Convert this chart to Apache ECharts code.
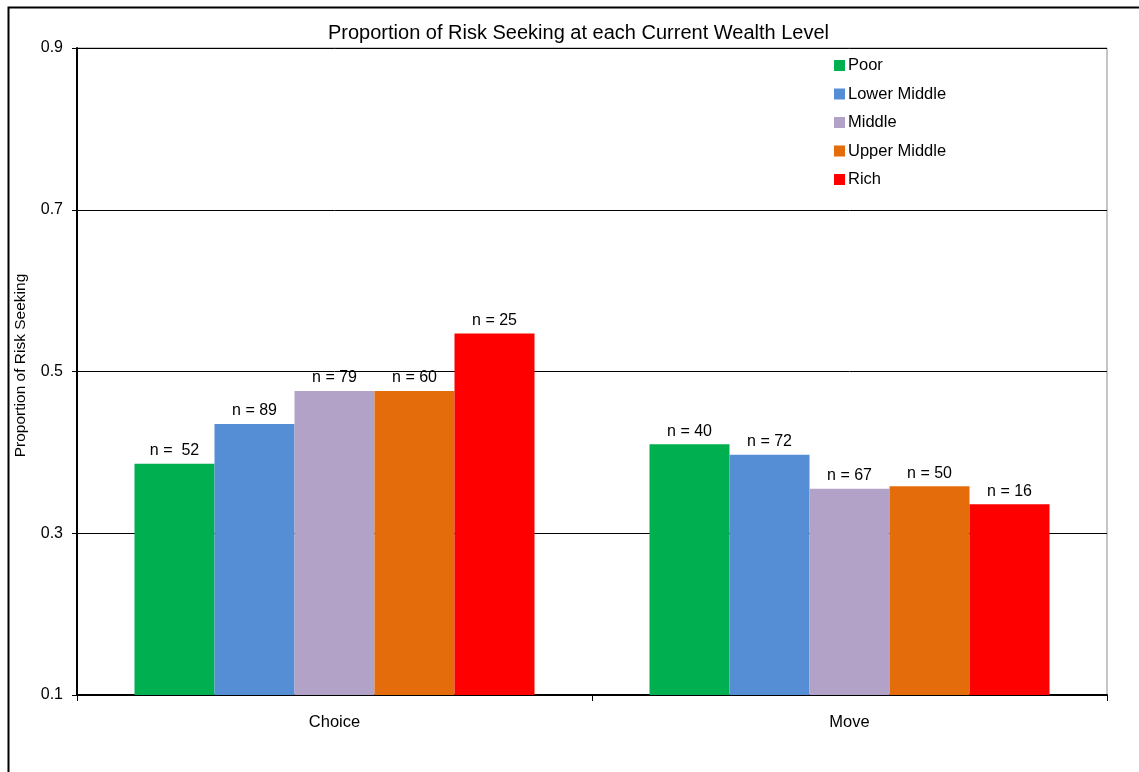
<!DOCTYPE html>
<html>
<head>
<meta charset="utf-8">
<script src="https://cdn.jsdelivr.net/npm/echarts@6/dist/echarts.min.js"></script>
<style>
  html, body { margin: 0; padding: 0; background: #fff; }
  #chart { width: 1139px; height: 772px; }
</style>
</head>
<body>
<div id="chart"></div>
<script>
// Task types on the x axis
const categories = ['Choice', 'Move'];

// Wealth groups (one bar series each)
const groups = ['Poor', 'Lower Middle', 'Middle', 'Upper Middle', 'Rich'];
const groupColors = ['#00B050', '#558ED5', '#B3A2C7', '#E46C0A', '#FF0000'];

// Proportion of risk seeking per group, [Choice, Move]
const poor        = [0.386, 0.410];
const lowerMiddle = [0.435, 0.397];
const middle      = [0.476, 0.355];
const upperMiddle = [0.476, 0.358];
const rich        = [0.547, 0.336];

// Sample sizes shown above the bars, [Choice, Move]
const nPoor        = [' 52', '40'];
const nLowerMiddle = ['89', '72'];
const nMiddle      = ['79', '67'];
const nUpperMiddle = ['60', '50'];
const nRich        = ['25', '16'];

// Y axis ticks
const yTicks = [0.1, 0.3, 0.5, 0.7, 0.9];

const values = [poor, lowerMiddle, middle, upperMiddle, rich];
const counts = [nPoor, nLowerMiddle, nMiddle, nUpperMiddle, nRich];

const FONT = "'Liberation Sans', Arial, sans-serif";

const chart = echarts.init(document.getElementById('chart'), null, { renderer: 'canvas' });

const series = groups.map((name, i) => ({
  name: name,
  type: 'bar',
  barWidth: 80,
  barGap: '0%',
  itemStyle: { color: groupColors[i] },
  label: {
    show: true,
    position: 'top',
    distance: 5,
    color: '#000',
    fontFamily: FONT,
    fontSize: 16,
    formatter: p => 'n = ' + counts[i][p.dataIndex]
  },
  data: values[i]
}));

chart.setOption({
  backgroundColor: '#fff',
  animation: false,
  textStyle: { fontFamily: FONT },
  graphic: [{
    type: 'rect',
    left: 6, top: 5,
    shape: { width: 1200, height: 850 },
    style: { fill: 'none', stroke: '#000', lineWidth: 2 },
    silent: true,
    z: -1
  }],
  title: {
    text: 'Proportion of Risk Seeking at each Current Wealth Level',
    left: 323,
    top: 18,
    textStyle: { fontFamily: FONT, fontSize: 20, fontWeight: 'normal', color: '#000' }
  },
  legend: {
    orient: 'vertical',
    left: 834,
    top: 57,
    padding: 0,
    itemWidth: 11,
    itemHeight: 11,
    itemGap: 11.5,
    icon: 'rect',
    textStyle: { fontFamily: FONT, fontSize: 16.5, color: '#000', lineHeight: 16, padding: [0, 0, 0, -2] },
    data: groups
  },
  grid: {
    left: 77, right: 32, top: 48, bottom: 77,
    show: true,
    borderColor: '#8c8c8c',
    borderWidth: 1,
    containLabel: false
  },
  xAxis: {
    type: 'category',
    data: categories,
    axisLine: { lineStyle: { color: '#000', width: 2 } },
    axisTick: { show: true, length: 6, lineStyle: { color: '#000', width: 1 } },
    axisLabel: { color: '#000', fontFamily: FONT, fontSize: 16.5, margin: 19 },
    splitLine: { show: false }
  },
  yAxis: {
    type: 'value',
    min: yTicks[0],
    max: yTicks[yTicks.length - 1],
    interval: 0.2,
    name: 'Proportion of Risk Seeking',
    nameLocation: 'middle',
    nameGap: 48,
    nameTextStyle: { color: '#000', fontFamily: FONT, fontSize: 15.5, padding: [0, 0, 0, 12] },
    axisLine: { show: true, lineStyle: { color: '#000', width: 2 } },
    axisTick: { show: true, length: 5, lineStyle: { color: '#000', width: 1 } },
    axisLabel: {
      color: '#000', fontFamily: FONT, fontSize: 16, margin: 14,
      formatter: v => v.toFixed(1)
    },
    splitLine: { show: true, lineStyle: { color: '#000', width: 1 } }
  },
  series: series
});
</script>
</body>
</html>
